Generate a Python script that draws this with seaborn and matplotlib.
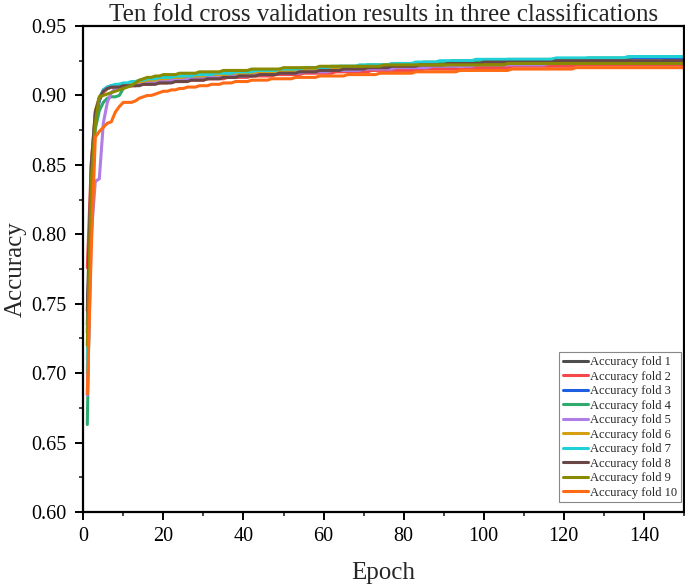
import matplotlib
matplotlib.use("Agg")
import matplotlib.pyplot as plt
import seaborn as sns
import pandas as pd
import numpy as np
from matplotlib.ticker import MultipleLocator

epochs = list(range(1, 151))

fold_labels = ["Accuracy fold 1", "Accuracy fold 2", "Accuracy fold 3", "Accuracy fold 4",
               "Accuracy fold 5", "Accuracy fold 6", "Accuracy fold 7", "Accuracy fold 8",
               "Accuracy fold 9", "Accuracy fold 10"]

fold_colors = ["#4d4d4d", "#f5474a", "#1c5fe0", "#2eaa6e", "#b07de6",
               "#d4a012", "#1fd0d6", "#6b4646", "#8a8a00", "#ff6a14"]

acc_fold1 = [
    0.735, 0.845, 0.885, 0.897, 0.903, 0.905, 0.906, 0.906, 0.907, 0.907,
    0.907, 0.907, 0.908, 0.908, 0.908, 0.909, 0.909, 0.909, 0.910, 0.910,
    0.910, 0.910, 0.911, 0.911, 0.911, 0.911, 0.912, 0.912, 0.912, 0.912,
    0.912, 0.913, 0.913, 0.913, 0.913, 0.913, 0.914, 0.914, 0.914, 0.914,
    0.914, 0.914, 0.915, 0.915, 0.915, 0.915, 0.915, 0.915, 0.916, 0.916,
    0.916, 0.916, 0.916, 0.916, 0.917, 0.917, 0.917, 0.917, 0.917, 0.917,
    0.917, 0.918, 0.918, 0.918, 0.918, 0.918, 0.918, 0.918, 0.919, 0.919,
    0.919, 0.919, 0.919, 0.919, 0.919, 0.919, 0.920, 0.920, 0.920, 0.920,
    0.920, 0.920, 0.920, 0.920, 0.921, 0.921, 0.921, 0.921, 0.921, 0.921,
    0.921, 0.921, 0.921, 0.922, 0.922, 0.922, 0.922, 0.922, 0.922, 0.922,
    0.922, 0.922, 0.922, 0.922, 0.923, 0.923, 0.923, 0.923, 0.923, 0.923,
    0.923, 0.923, 0.923, 0.923, 0.923, 0.923, 0.923, 0.924, 0.924, 0.924,
    0.924, 0.924, 0.924, 0.924, 0.924, 0.924, 0.924, 0.924, 0.924, 0.924,
    0.924, 0.924, 0.924, 0.924, 0.924, 0.924, 0.924, 0.924, 0.924, 0.924,
    0.924, 0.924, 0.924, 0.924, 0.925, 0.925, 0.925, 0.925, 0.925, 0.925,
]

acc_fold2 = [
    0.776, 0.852, 0.886, 0.897, 0.902, 0.905, 0.906, 0.906, 0.906, 0.907,
    0.907, 0.907, 0.907, 0.908, 0.908, 0.908, 0.908, 0.909, 0.909, 0.909,
    0.909, 0.910, 0.910, 0.910, 0.910, 0.911, 0.911, 0.911, 0.911, 0.911,
    0.912, 0.912, 0.912, 0.912, 0.912, 0.913, 0.913, 0.913, 0.913, 0.913,
    0.913, 0.914, 0.914, 0.914, 0.914, 0.914, 0.914, 0.915, 0.915, 0.915,
    0.915, 0.915, 0.915, 0.915, 0.916, 0.916, 0.916, 0.916, 0.916, 0.916,
    0.916, 0.916, 0.917, 0.917, 0.917, 0.917, 0.917, 0.917, 0.917, 0.917,
    0.917, 0.918, 0.918, 0.918, 0.918, 0.918, 0.918, 0.918, 0.918, 0.918,
    0.918, 0.918, 0.918, 0.918, 0.919, 0.919, 0.919, 0.919, 0.919, 0.919,
    0.919, 0.919, 0.919, 0.919, 0.919, 0.920, 0.920, 0.920, 0.920, 0.920,
    0.920, 0.920, 0.920, 0.920, 0.920, 0.920, 0.921, 0.921, 0.921, 0.921,
    0.921, 0.921, 0.921, 0.921, 0.921, 0.921, 0.921, 0.921, 0.921, 0.921,
    0.921, 0.921, 0.922, 0.922, 0.922, 0.922, 0.922, 0.922, 0.922, 0.922,
    0.922, 0.922, 0.922, 0.922, 0.922, 0.922, 0.922, 0.922, 0.922, 0.922,
    0.922, 0.922, 0.922, 0.922, 0.922, 0.922, 0.922, 0.922, 0.922, 0.922,
]

acc_fold3 = [
    0.729, 0.842, 0.882, 0.896, 0.904, 0.906, 0.907, 0.907, 0.908, 0.908,
    0.908, 0.909, 0.909, 0.909, 0.910, 0.910, 0.910, 0.911, 0.911, 0.911,
    0.911, 0.912, 0.912, 0.912, 0.912, 0.913, 0.913, 0.913, 0.913, 0.913,
    0.914, 0.914, 0.914, 0.914, 0.914, 0.915, 0.915, 0.915, 0.915, 0.915,
    0.915, 0.916, 0.916, 0.916, 0.916, 0.916, 0.917, 0.917, 0.917, 0.917,
    0.917, 0.917, 0.918, 0.918, 0.918, 0.918, 0.918, 0.918, 0.919, 0.919,
    0.919, 0.919, 0.919, 0.919, 0.919, 0.920, 0.920, 0.920, 0.920, 0.920,
    0.920, 0.920, 0.921, 0.921, 0.921, 0.921, 0.921, 0.921, 0.921, 0.922,
    0.922, 0.922, 0.922, 0.922, 0.922, 0.922, 0.922, 0.923, 0.923, 0.923,
    0.923, 0.923, 0.923, 0.923, 0.923, 0.924, 0.924, 0.924, 0.924, 0.924,
    0.924, 0.924, 0.924, 0.924, 0.925, 0.925, 0.925, 0.925, 0.925, 0.925,
    0.925, 0.925, 0.925, 0.925, 0.925, 0.925, 0.926, 0.926, 0.926, 0.926,
    0.926, 0.926, 0.926, 0.926, 0.926, 0.926, 0.926, 0.926, 0.926, 0.926,
    0.926, 0.926, 0.926, 0.926, 0.926, 0.926, 0.927, 0.927, 0.927, 0.927,
    0.927, 0.927, 0.927, 0.927, 0.927, 0.927, 0.927, 0.927, 0.927, 0.927,
]

acc_fold4 = [
    0.663, 0.832, 0.876, 0.889, 0.895, 0.898, 0.899, 0.899, 0.900, 0.905,
    0.907, 0.908, 0.909, 0.910, 0.910, 0.911, 0.911, 0.912, 0.912, 0.912,
    0.913, 0.913, 0.913, 0.913, 0.914, 0.914, 0.914, 0.914, 0.914, 0.915,
    0.915, 0.915, 0.915, 0.915, 0.916, 0.916, 0.916, 0.916, 0.916, 0.917,
    0.917, 0.917, 0.917, 0.917, 0.918, 0.918, 0.918, 0.918, 0.918, 0.918,
    0.919, 0.919, 0.919, 0.919, 0.919, 0.919, 0.920, 0.920, 0.920, 0.920,
    0.920, 0.920, 0.920, 0.921, 0.921, 0.921, 0.921, 0.921, 0.921, 0.921,
    0.922, 0.922, 0.922, 0.922, 0.922, 0.922, 0.922, 0.923, 0.923, 0.923,
    0.923, 0.923, 0.923, 0.923, 0.924, 0.924, 0.924, 0.924, 0.924, 0.924,
    0.924, 0.925, 0.925, 0.925, 0.925, 0.925, 0.925, 0.925, 0.925, 0.925,
    0.925, 0.925, 0.925, 0.925, 0.925, 0.926, 0.926, 0.926, 0.926, 0.926,
    0.926, 0.926, 0.926, 0.926, 0.926, 0.926, 0.926, 0.926, 0.926, 0.926,
    0.926, 0.926, 0.926, 0.926, 0.926, 0.927, 0.927, 0.927, 0.927, 0.927,
    0.927, 0.927, 0.927, 0.927, 0.927, 0.927, 0.928, 0.928, 0.928, 0.928,
    0.928, 0.928, 0.928, 0.928, 0.928, 0.928, 0.928, 0.928, 0.928, 0.928,
]

acc_fold5 = [
    0.684, 0.800, 0.838, 0.840, 0.880, 0.895, 0.902, 0.905, 0.906, 0.907,
    0.907, 0.908, 0.908, 0.908, 0.909, 0.909, 0.909, 0.910, 0.910, 0.910,
    0.910, 0.911, 0.911, 0.911, 0.911, 0.912, 0.912, 0.912, 0.912, 0.912,
    0.913, 0.913, 0.913, 0.913, 0.913, 0.914, 0.914, 0.914, 0.914, 0.914,
    0.914, 0.915, 0.915, 0.915, 0.915, 0.915, 0.915, 0.916, 0.916, 0.916,
    0.916, 0.916, 0.916, 0.916, 0.917, 0.917, 0.917, 0.917, 0.917, 0.917,
    0.917, 0.918, 0.918, 0.918, 0.918, 0.918, 0.918, 0.918, 0.918, 0.919,
    0.919, 0.919, 0.919, 0.919, 0.919, 0.919, 0.919, 0.920, 0.920, 0.920,
    0.920, 0.920, 0.920, 0.920, 0.920, 0.920, 0.921, 0.921, 0.921, 0.921,
    0.921, 0.921, 0.921, 0.921, 0.921, 0.921, 0.921, 0.922, 0.922, 0.922,
    0.922, 0.922, 0.922, 0.922, 0.922, 0.922, 0.922, 0.922, 0.922, 0.922,
    0.922, 0.922, 0.922, 0.922, 0.922, 0.923, 0.923, 0.923, 0.923, 0.923,
    0.923, 0.923, 0.923, 0.923, 0.923, 0.923, 0.923, 0.923, 0.923, 0.923,
    0.923, 0.923, 0.923, 0.923, 0.923, 0.923, 0.923, 0.923, 0.923, 0.923,
    0.923, 0.923, 0.923, 0.923, 0.923, 0.923, 0.923, 0.923, 0.923, 0.923,
]

acc_fold6 = [
    0.710, 0.848, 0.889, 0.899, 0.903, 0.905, 0.906, 0.907, 0.907, 0.908,
    0.908, 0.909, 0.909, 0.910, 0.910, 0.911, 0.911, 0.911, 0.912, 0.912,
    0.912, 0.913, 0.913, 0.913, 0.913, 0.914, 0.914, 0.914, 0.914, 0.914,
    0.915, 0.915, 0.915, 0.915, 0.915, 0.915, 0.916, 0.916, 0.916, 0.916,
    0.916, 0.916, 0.917, 0.917, 0.917, 0.917, 0.917, 0.917, 0.918, 0.918,
    0.918, 0.918, 0.918, 0.918, 0.918, 0.919, 0.919, 0.919, 0.919, 0.919,
    0.919, 0.919, 0.919, 0.920, 0.920, 0.920, 0.920, 0.920, 0.920, 0.920,
    0.920, 0.921, 0.921, 0.921, 0.921, 0.921, 0.921, 0.921, 0.921, 0.921,
    0.922, 0.922, 0.922, 0.922, 0.922, 0.922, 0.922, 0.922, 0.922, 0.922,
    0.922, 0.923, 0.923, 0.923, 0.923, 0.923, 0.923, 0.923, 0.923, 0.923,
    0.923, 0.923, 0.923, 0.923, 0.923, 0.923, 0.923, 0.923, 0.923, 0.923,
    0.923, 0.923, 0.923, 0.924, 0.924, 0.924, 0.924, 0.924, 0.924, 0.924,
    0.924, 0.924, 0.924, 0.924, 0.924, 0.924, 0.924, 0.924, 0.924, 0.924,
    0.924, 0.924, 0.924, 0.924, 0.924, 0.924, 0.924, 0.924, 0.924, 0.924,
    0.924, 0.924, 0.924, 0.924, 0.924, 0.924, 0.924, 0.924, 0.924, 0.924,
]

acc_fold7 = [
    0.700, 0.846, 0.886, 0.898, 0.904, 0.906, 0.907, 0.908, 0.908, 0.909,
    0.909, 0.910, 0.910, 0.911, 0.911, 0.912, 0.912, 0.912, 0.913, 0.913,
    0.913, 0.913, 0.914, 0.914, 0.914, 0.914, 0.914, 0.915, 0.915, 0.915,
    0.915, 0.915, 0.916, 0.916, 0.916, 0.916, 0.916, 0.917, 0.917, 0.917,
    0.917, 0.917, 0.918, 0.918, 0.918, 0.918, 0.918, 0.918, 0.919, 0.919,
    0.919, 0.919, 0.919, 0.919, 0.920, 0.920, 0.920, 0.920, 0.920, 0.920,
    0.920, 0.921, 0.921, 0.921, 0.921, 0.921, 0.921, 0.921, 0.922, 0.922,
    0.922, 0.922, 0.922, 0.922, 0.922, 0.922, 0.923, 0.923, 0.923, 0.923,
    0.923, 0.923, 0.924, 0.924, 0.924, 0.924, 0.924, 0.924, 0.925, 0.925,
    0.925, 0.925, 0.925, 0.925, 0.925, 0.925, 0.925, 0.926, 0.926, 0.926,
    0.926, 0.926, 0.926, 0.926, 0.926, 0.926, 0.926, 0.926, 0.926, 0.926,
    0.926, 0.926, 0.926, 0.926, 0.926, 0.926, 0.926, 0.927, 0.927, 0.927,
    0.927, 0.927, 0.927, 0.927, 0.927, 0.927, 0.927, 0.927, 0.927, 0.927,
    0.927, 0.927, 0.927, 0.927, 0.927, 0.928, 0.928, 0.928, 0.928, 0.928,
    0.928, 0.928, 0.928, 0.928, 0.928, 0.928, 0.928, 0.928, 0.928, 0.928,
]

acc_fold8 = [
    0.745, 0.850, 0.888, 0.898, 0.903, 0.905, 0.906, 0.906, 0.906, 0.907,
    0.907, 0.907, 0.907, 0.907, 0.908, 0.908, 0.908, 0.908, 0.909, 0.909,
    0.909, 0.909, 0.910, 0.910, 0.910, 0.910, 0.911, 0.911, 0.911, 0.911,
    0.912, 0.912, 0.912, 0.912, 0.913, 0.913, 0.913, 0.913, 0.914, 0.914,
    0.914, 0.914, 0.914, 0.915, 0.915, 0.915, 0.915, 0.915, 0.916, 0.916,
    0.916, 0.916, 0.916, 0.917, 0.917, 0.917, 0.917, 0.917, 0.918, 0.918,
    0.918, 0.918, 0.918, 0.918, 0.919, 0.919, 0.919, 0.919, 0.919, 0.919,
    0.920, 0.920, 0.920, 0.920, 0.920, 0.920, 0.921, 0.921, 0.921, 0.921,
    0.921, 0.921, 0.921, 0.922, 0.922, 0.922, 0.922, 0.922, 0.922, 0.922,
    0.923, 0.923, 0.923, 0.923, 0.923, 0.923, 0.923, 0.923, 0.923, 0.924,
    0.924, 0.924, 0.924, 0.924, 0.924, 0.924, 0.924, 0.924, 0.924, 0.924,
    0.924, 0.924, 0.924, 0.924, 0.924, 0.924, 0.924, 0.925, 0.925, 0.925,
    0.925, 0.925, 0.925, 0.925, 0.925, 0.925, 0.925, 0.925, 0.925, 0.925,
    0.925, 0.925, 0.925, 0.925, 0.925, 0.925, 0.925, 0.925, 0.925, 0.925,
    0.925, 0.925, 0.925, 0.925, 0.925, 0.925, 0.925, 0.925, 0.925, 0.925,
]

acc_fold9 = [
    0.720, 0.840, 0.880, 0.899, 0.900, 0.901, 0.902, 0.903, 0.904, 0.905,
    0.906, 0.907, 0.909, 0.911, 0.912, 0.913, 0.913, 0.914, 0.914, 0.915,
    0.915, 0.915, 0.915, 0.916, 0.916, 0.916, 0.916, 0.916, 0.917, 0.917,
    0.917, 0.917, 0.917, 0.917, 0.918, 0.918, 0.918, 0.918, 0.918, 0.918,
    0.918, 0.919, 0.919, 0.919, 0.919, 0.919, 0.919, 0.919, 0.919, 0.920,
    0.920, 0.920, 0.920, 0.920, 0.920, 0.920, 0.920, 0.920, 0.921, 0.921,
    0.921, 0.921, 0.921, 0.921, 0.921, 0.921, 0.921, 0.921, 0.921, 0.921,
    0.921, 0.921, 0.921, 0.921, 0.922, 0.922, 0.922, 0.922, 0.922, 0.922,
    0.922, 0.922, 0.922, 0.922, 0.922, 0.922, 0.922, 0.922, 0.922, 0.922,
    0.922, 0.922, 0.922, 0.922, 0.922, 0.922, 0.922, 0.922, 0.922, 0.922,
    0.922, 0.922, 0.922, 0.922, 0.922, 0.923, 0.923, 0.923, 0.923, 0.923,
    0.923, 0.923, 0.923, 0.923, 0.923, 0.923, 0.923, 0.923, 0.923, 0.923,
    0.923, 0.923, 0.923, 0.923, 0.923, 0.923, 0.923, 0.923, 0.923, 0.923,
    0.923, 0.923, 0.923, 0.923, 0.923, 0.923, 0.923, 0.923, 0.923, 0.923,
    0.923, 0.923, 0.923, 0.923, 0.923, 0.923, 0.923, 0.923, 0.923, 0.923,
]

acc_fold10 = [
    0.685, 0.790, 0.870, 0.874, 0.877, 0.880, 0.881, 0.888, 0.892, 0.895,
    0.895, 0.895, 0.896, 0.898, 0.899, 0.900, 0.900, 0.901, 0.902, 0.903,
    0.903, 0.904, 0.904, 0.905, 0.905, 0.906, 0.906, 0.906, 0.907, 0.907,
    0.907, 0.908, 0.908, 0.908, 0.909, 0.909, 0.909, 0.910, 0.910, 0.910,
    0.910, 0.911, 0.911, 0.911, 0.911, 0.911, 0.912, 0.912, 0.912, 0.912,
    0.912, 0.912, 0.913, 0.913, 0.913, 0.913, 0.913, 0.913, 0.914, 0.914,
    0.914, 0.914, 0.914, 0.914, 0.914, 0.915, 0.915, 0.915, 0.915, 0.915,
    0.915, 0.915, 0.915, 0.916, 0.916, 0.916, 0.916, 0.916, 0.916, 0.916,
    0.916, 0.916, 0.917, 0.917, 0.917, 0.917, 0.917, 0.917, 0.917, 0.917,
    0.917, 0.917, 0.917, 0.918, 0.918, 0.918, 0.918, 0.918, 0.918, 0.918,
    0.918, 0.918, 0.918, 0.918, 0.918, 0.918, 0.919, 0.919, 0.919, 0.919,
    0.919, 0.919, 0.919, 0.919, 0.919, 0.919, 0.919, 0.919, 0.919, 0.919,
    0.919, 0.919, 0.920, 0.920, 0.920, 0.920, 0.920, 0.920, 0.920, 0.920,
    0.920, 0.920, 0.920, 0.920, 0.920, 0.920, 0.920, 0.920, 0.920, 0.920,
    0.920, 0.920, 0.920, 0.920, 0.920, 0.920, 0.920, 0.920, 0.920, 0.920,
]

all_folds = [acc_fold1, acc_fold2, acc_fold3, acc_fold4, acc_fold5,
             acc_fold6, acc_fold7, acc_fold8, acc_fold9, acc_fold10]

frames = []
for label, vals in zip(fold_labels, all_folds):
    frames.append(pd.DataFrame({"Epoch": epochs, "Accuracy": vals, "Fold": label}))
df = pd.concat(frames, ignore_index=True)

sns.set_style("ticks")
plt.rcParams["font.family"] = ["Liberation Serif", "DejaVu Serif"]

fig = plt.figure(figsize=(6.85, 5.87), dpi=100)
ax = fig.add_axes([0.1216, 0.1278, 0.8769, 0.8279])

sns.lineplot(data=df, x="Epoch", y="Accuracy", hue="Fold",
             palette=dict(zip(fold_labels, fold_colors)),
             linewidth=2.2, estimator=None, ax=ax)

ax.set_xlim(0, 150)
ax.set_ylim(0.60, 0.95)
ax.xaxis.set_major_locator(MultipleLocator(20))
ax.xaxis.set_minor_locator(MultipleLocator(10))
ax.yaxis.set_major_locator(MultipleLocator(0.05))
ax.yaxis.set_minor_locator(MultipleLocator(0.025))
ax.yaxis.set_major_formatter(matplotlib.ticker.FormatStrFormatter("%.2f"))
ax.tick_params(which="major", direction="out", length=6, width=1.4, labelsize=14.5,
               colors="black")
ax.tick_params(axis="x", which="major", pad=5)
ax.tick_params(axis="y", which="major", pad=6)
ax.tick_params(which="minor", direction="out", length=3, width=1.2)
for s in ax.spines.values():
    s.set_linewidth(1.6)
    s.set_color("black")

ax.set_xlabel("Epoch", fontsize=18, labelpad=11)
ax.set_ylabel("Accuracy", fontsize=18, labelpad=3)
ax.set_title("Ten fold cross validation results in three classifications",
             fontsize=18, pad=3)

leg = ax.legend(loc="lower right", bbox_to_anchor=(0.995, 0.02), borderaxespad=0,
                fontsize=9, frameon=True, fancybox=False,
                edgecolor="#888888", framealpha=1,
                handlelength=2.0, handletextpad=0.15, labelspacing=0.2,
                borderpad=0.3)
leg.get_frame().set_linewidth(0.8)

fig.savefig("out.png", dpi=100)
